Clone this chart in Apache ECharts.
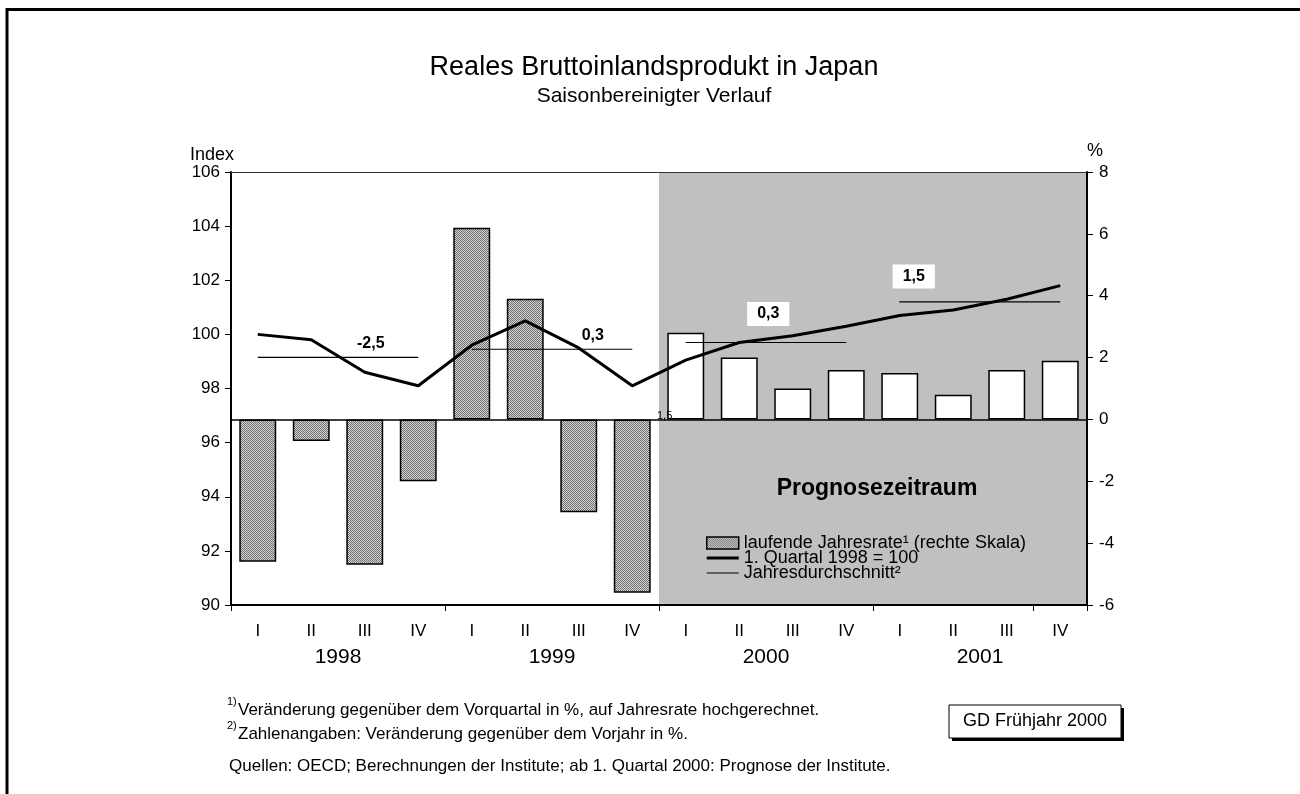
<!DOCTYPE html>
<html>
<head>
<meta charset="utf-8">
<script src="https://cdn.jsdelivr.net/npm/echarts@6/dist/echarts.min.js"></script>
<style>
  html, body { margin: 0; padding: 0; background: #fff; }
  #main { width: 1300px; height: 794px; }
</style>
</head>
<body>
<div id="main"></div>
<script>
// 数据
const quarters = ['I', 'II', 'III', 'IV'];
const years = ['1998', '1999', '2000', '2001'];
const categories = years.flatMap(y => quarters.map(q => y + ' ' + q));
// laufende Jahresrate (rechte Skala, %)
const rateValues = [-4.6, -0.7, -4.7, -2.0, 6.2, 3.9, -3.0, -5.6, 2.8, 2.0, 1.0, 1.6, 1.5, 0.8, 1.6, 1.9];
// 1. Quartal 1998 = 100
const indexValues = [100.0, 99.8, 98.6, 98.1, 99.6, 100.5, 99.5, 98.1, 99.05, 99.7, 99.95, 100.3, 100.7, 100.9, 101.3, 101.8];
// Jahresdurchschnitt (Indexniveau) und Veränderung gegenüber Vorjahr
const yearAverage = [99.15, 99.45, 99.7, 101.2];
const yearGrowth = ['-2,5', '0,3', '0,3', '1,5'];
const forecastStart = 8; // ab 1. Quartal 2000

const font = 'Liberation Sans, Arial, sans-serif';

// 填充图案 (Schraffur)
function makePattern() {
  const c = document.createElement('canvas');
  c.width = 4; c.height = 4;
  const g = c.getContext('2d');
  g.fillStyle = '#d6d6d6';
  g.fillRect(0, 0, 4, 4);
  g.fillStyle = '#6e6e6e';
  for (let x = 0; x < 4; x++) {
    for (let y = 0; y < 4; y++) {
      if ((x + y) % 2 === 0) g.fillRect(x, y, 1, 1);
    }
  }
  return c;
}
const hatch = { image: makePattern(), repeat: 'repeat' };

// Beschriftung der Jahresdurchschnitte
const labelCfg = [
  { idx: 2, offset: [6, 0], distance: 5, box: false },
  { idx: 2, offset: [14, 0], distance: 5, box: false },
  { idx: 1, offset: [29, 0], distance: 16, box: true },
  { idx: 0, offset: [14, 0], distance: 13, box: true }
];

const avgSeries = years.map((y, k) => {
  const data = categories.map(() => '-');
  for (let q = 0; q < 4; q++) {
    const i = k * 4 + q;
    if (q === labelCfg[k].idx) {
      data[i] = {
        value: yearAverage[k],
        symbol: 'circle',
        symbolSize: 1,
        label: {
          show: true,
          position: 'top',
          distance: labelCfg[k].distance,
          offset: labelCfg[k].offset,
          formatter: yearGrowth[k],
          fontFamily: font,
          fontSize: 16,
          fontWeight: 'bold',
          color: '#000',
          backgroundColor: labelCfg[k].box ? '#fff' : 'transparent',
          padding: labelCfg[k].box ? [4, 10] : 0
        }
      };
    } else {
      data[i] = yearAverage[k];
    }
  }
  return {
    name: 'Jahresdurchschnitt²',
    type: 'line',
    xAxisIndex: 0,
    yAxisIndex: 0,
    data: data,
    symbol: 'none',
    showSymbol: true,
    color: '#000',
    lineStyle: { color: '#000', width: 1.2 },
    z: 4,
    silent: true
  };
});

var chart = echarts.init(document.getElementById('main'));

const option = {
  backgroundColor: '#fff',
  animation: false,
  textStyle: { fontFamily: font },
  grid: { left: 231, right: 213, top: 172, bottom: 189, containLabel: false },
  legend: {
    orient: 'vertical',
    left: 701,
    top: 529,
    itemWidth: 32,
    itemHeight: 12,
    itemGap: -3,
    textStyle: { fontFamily: font, fontSize: 18, color: '#000', lineHeight: 15 },
    data: [
      { name: 'laufende Jahresrate¹ (rechte Skala)', icon: 'rect',
        itemStyle: { color: hatch, borderColor: '#000', borderWidth: 1.5 } },
      { name: '1. Quartal 1998 = 100', icon: 'path://M0,0H32V3H0Z' },
      { name: 'Jahresdurchschnitt²', icon: 'path://M0,0H32V1.2H0Z' }
    ]
  },
  xAxis: [
    {
      type: 'category',
      data: categories,
      position: 'bottom',
      boundaryGap: true,
      z: 3,
      axisLine: { onZero: false, lineStyle: { color: '#000', width: 2 } },
      axisTick: { show: true, interval: 3, length: 6, lineStyle: { color: '#000', width: 1 } },
      axisLabel: {
        interval: 0, margin: 18, fontSize: 17, color: '#000', fontFamily: font,
        formatter: v => v.split(' ')[1]
      },
      splitLine: { show: false }
    },
    {
      type: 'category',
      data: years,
      position: 'bottom',
      z: 3,
      axisLine: { show: false, onZero: false },
      axisTick: { show: false },
      axisLabel: { margin: 42, fontSize: 21, color: '#000', fontFamily: font },
      splitLine: { show: false }
    },
    {
      type: 'category',
      data: categories,
      position: 'top',
      z: 3,
      axisLine: { show: true, onZero: false, lineStyle: { color: '#333', width: 1 } },
      axisTick: { show: false },
      axisLabel: { show: false },
      splitLine: { show: false }
    }
  ],
  yAxis: [
    {
      type: 'value',
      position: 'left',
      min: 90,
      max: 106,
      interval: 2,
      z: 3,
      name: 'Index',
      nameLocation: 'end',
      nameGap: 5,
      nameTextStyle: { fontSize: 18, color: '#000', fontFamily: font, align: 'right', padding: [0, -3, 0, 0] },
      axisLine: { show: true, lineStyle: { color: '#000', width: 2 } },
      axisTick: { show: true, length: 6, lineStyle: { color: '#000' } },
      axisLabel: { fontSize: 17, color: '#000', margin: 11, fontFamily: font },
      splitLine: { show: false }
    },
    {
      type: 'value',
      position: 'right',
      min: -6,
      max: 8,
      interval: 2,
      z: 3,
      name: '%',
      nameLocation: 'end',
      nameGap: 12,
      nameTextStyle: { fontSize: 18, color: '#000', fontFamily: font, align: 'left', padding: [0, 0, 0, 0] },
      axisLine: { show: true, lineStyle: { color: '#000', width: 2 } },
      axisTick: { show: true, length: 6, lineStyle: { color: '#000' } },
      axisLabel: { fontSize: 17, color: '#000', margin: 12, fontFamily: font },
      splitLine: { show: false }
    }
  ],
  series: [
    {
      name: 'laufende Jahresrate¹ (rechte Skala)',
      type: 'bar',
      xAxisIndex: 0,
      yAxisIndex: 1,
      barCategoryGap: '31%',
      data: rateValues.map((v, i) => i >= forecastStart ? { value: v, itemStyle: { color: '#fff' } } : v),
      itemStyle: { color: hatch, borderColor: '#000', borderWidth: 1.5 },
      silent: true,
      markLine: {
        silent: true,
        symbol: 'none',
        label: { show: false },
        lineStyle: { color: '#000', width: 1.5, type: 'solid' },
        data: [{ yAxis: 0 }]
      }
    },
    {
      name: '1. Quartal 1998 = 100',
      type: 'line',
      xAxisIndex: 0,
      yAxisIndex: 0,
      data: indexValues,
      symbol: 'none',
      color: '#000',
      lineStyle: { color: '#000', width: 3 },
      z: 5,
      silent: true
    }
  ].concat(avgSeries)
};

chart.setOption(option);

// Prognosezeitraum (grauer Hintergrund) aus den Achsen berechnen
const px = i => chart.convertToPixel({ xAxisIndex: 0 }, categories[i]);
const band = px(1) - px(0);
const grayLeft = px(forecastStart) - band / 2;
const grayRight = px(categories.length - 1) + band / 2;
const yTop = chart.convertToPixel({ yAxisIndex: 0 }, 106);
const yBottom = chart.convertToPixel({ yAxisIndex: 0 }, 90);
const yZero = chart.convertToPixel({ yAxisIndex: 1 }, 0);

chart.setOption({
  graphic: [
    // Rahmen
    { type: 'rect', z: 10, shape: { x: 7, y: 9.5, width: 1400, height: 900 },
      style: { fill: 'none', stroke: '#000', lineWidth: 3 } },
    { type: 'rect', z: 1, silent: true,
      shape: { x: grayLeft, y: yTop, width: grayRight - grayLeft, height: yBottom - yTop },
      style: { fill: '#c0c0c0' } },
    { type: 'text', z: 6, x: grayLeft - 2, y: yZero - 3,
      style: { text: '1,5', fontSize: 11, fontFamily: font, fill: '#000', textAlign: 'left', textVerticalAlign: 'middle' } },
    { type: 'text', z: 6, x: (grayLeft + grayRight) / 2 + 4, y: 489,
      style: { text: 'Prognosezeitraum', fontSize: 23, fontWeight: 'bold', fontFamily: font, fill: '#000', textAlign: 'center', textVerticalAlign: 'middle' } },
    // Titel
    { type: 'text', z: 6, x: 654, y: 68,
      style: { text: 'Reales Bruttoinlandsprodukt in Japan', fontSize: 27, fontFamily: font, fill: '#000', textAlign: 'center', textVerticalAlign: 'middle' } },
    { type: 'text', z: 6, x: 654, y: 96,
      style: { text: 'Saisonbereinigter Verlauf', fontSize: 21, fontFamily: font, fill: '#000', textAlign: 'center', textVerticalAlign: 'middle' } },
    // Fußnoten
    { type: 'text', z: 6, x: 227, y: 702,
      style: { text: '1)', fontSize: 11, fontFamily: font, fill: '#000', textVerticalAlign: 'middle' } },
    { type: 'text', z: 6, x: 238, y: 710,
      style: { text: 'Veränderung gegenüber dem Vorquartal in %, auf Jahresrate hochgerechnet.', fontSize: 17, fontFamily: font, fill: '#000', textVerticalAlign: 'middle' } },
    { type: 'text', z: 6, x: 227, y: 726,
      style: { text: '2)', fontSize: 11, fontFamily: font, fill: '#000', textVerticalAlign: 'middle' } },
    { type: 'text', z: 6, x: 238, y: 734,
      style: { text: 'Zahlenangaben: Veränderung gegenüber dem Vorjahr in %.', fontSize: 17, fontFamily: font, fill: '#000', textVerticalAlign: 'middle' } },
    { type: 'text', z: 6, x: 229, y: 766,
      style: { text: 'Quellen: OECD; Berechnungen der Institute; ab 1. Quartal 2000: Prognose der Institute.', fontSize: 17, fontFamily: font, fill: '#000', textVerticalAlign: 'middle' } },
    // GD Frühjahr 2000
    { type: 'rect', z: 6, shape: { x: 952, y: 708, width: 172, height: 33 }, style: { fill: '#000' } },
    { type: 'rect', z: 7, shape: { x: 949, y: 705, width: 172, height: 33 }, style: { fill: '#fff', stroke: '#000', lineWidth: 1 } },
    { type: 'text', z: 8, x: 1035, y: 721,
      style: { text: 'GD Frühjahr 2000', fontSize: 18, fontFamily: font, fill: '#000', textAlign: 'center', textVerticalAlign: 'middle' } }
  ]
});
</script>
</body>
</html>
